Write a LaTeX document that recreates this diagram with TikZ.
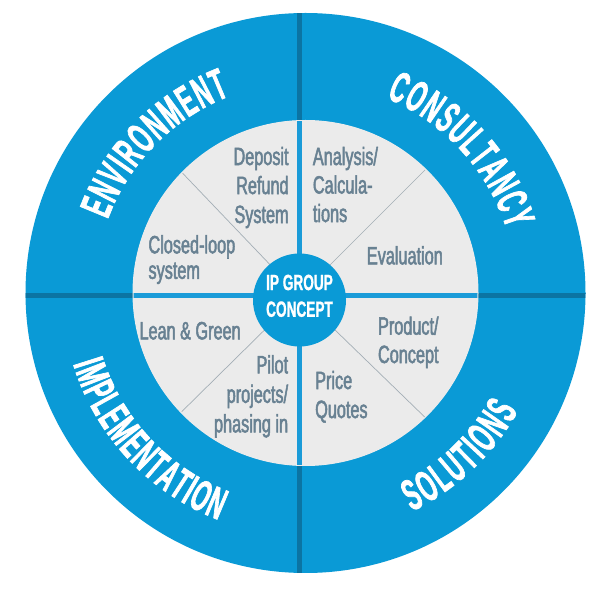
\documentclass[tikz,border=0pt]{standalone}
\usepackage{fontspec}
\usetikzlibrary{decorations.text}
\newfontfamily\ringfont[FakeStretch=0.5,FakeBold=1.5]{Liberation Sans}
\newfontfamily\labfont[FakeStretch=0.65,FakeBold=2]{Liberation Sans}
\newfontfamily\ctrfont[FakeStretch=0.62,FakeBold=1]{Liberation Sans}
\definecolor{ringblue}{HTML}{0A9AD6}
\definecolor{bandblue}{HTML}{0B74A3}
\definecolor{innerline}{HTML}{1A9BD8}
\definecolor{fillgray}{HTML}{EBEBEB}
\definecolor{diaggray}{HTML}{A3AEB5}
\definecolor{labgray}{HTML}{688192}
\begin{document}
\begin{tikzpicture}[x=1pt,y=1pt,
  lab/.style={font=\labfont\fontsize{25}{#1}\selectfont, text=labgray, inner sep=0pt},
  ctrtext/.style={font=\ctrfont\bfseries\fontsize{22}{26.7}\selectfont, text=white, inner sep=0pt, align=center},
  darkband/.style={draw=bandblue, line width=5.5pt},
  lightband/.style={draw=innerline, line width=4.5pt},
  diag/.style={draw=diaggray, line width=0.7pt},
  ringtext/.style={decorate, decoration={text along path, text={|\ringfont\bfseries\fontsize{44}{46}\selectfont|#1}, text color=white, text align={fit to path}}}
]
\useasboundingbox (0,0) rectangle (600,600);
\fill[white] (0,0) rectangle (600,600);
\coordinate (O) at (305.5,307);
\coordinate (X) at (299.5,304.5);
\coordinate (vt) at (299.5,600);
\coordinate (vb) at (299.5,0);
\coordinate (hl) at (0,304.5);
\coordinate (hr) at (600,304.5);
% outer ring
\fill[ringblue] (O) circle[radius=280pt];
\begin{scope}
  \clip (O) circle[radius=280pt];
  \draw[darkband] (vb) -- (vt);
  \draw[darkband] (hl) -- (hr);
\end{scope}
% inner gray disc
\fill[fillgray] (O) circle[radius=172.5pt];
\draw[white!85!gray, line width=1pt] (O) circle[radius=172.5pt];
% diagonals
\coordinate (d1) at (182.7,426.7);
\coordinate (d2) at (425,430);
\coordinate (d3) at (181.7,188.3);
\coordinate (d4) at (425,182.7);
\begin{scope}
  \clip (O) circle[radius=172pt];
  \draw[diag] (X) -- (d1);
  \draw[diag] (X) -- (d2);
  \draw[diag] (X) -- (d3);
  \draw[diag] (X) -- (d4);
  \draw[lightband] (vb) -- (vt);
  \draw[lightband] (hl) -- (hr);
\end{scope}
% center
\node[circle, fill=ringblue, minimum size=93pt, inner sep=0pt] (ctr) at (299.5,300) {};
\node[ctrtext, anchor=north] (ctrlab) at (299.5,325.5) {IP GROUP\\CONCEPT};
% ring texts
\path[ringtext=ENVIRONMENT] ([shift={(159.6:211)}]O) arc[start angle=159.6, end angle=111, radius=211pt];
\path[ringtext=CONSULTANCY] ([shift={(67.5:211)}]O) arc[start angle=67.5, end angle=17.5, radius=211pt];
\path[ringtext=IMPLEMENTATION] ([shift={(197:243)}]O) arc[start angle=197, end angle=249, radius=243pt];
\path[ringtext=SOLUTIONS] ([shift={(296:243)}]O) arc[start angle=296, end angle=331, radius=243pt];
% inner labels
\node[lab=29, anchor=north east, align=right] (dep) at (288.8,453.3) {Deposit\\Refund\\System};
\node[lab=25.5, anchor=north west, align=left] (clo) at (148.3,365) {Closed-loop\\system};
\node[lab=28.5, anchor=north west, align=left] (ana) at (312.7,453.3) {Analysis/\\Calcula-\\tions};
\node[lab=29, anchor=north west, align=left] (eva) at (366.7,354) {Evaluation};
\node[lab=29, anchor=north west, align=left] (lea) at (139.3,278.3) {Lean \& Green};
\node[lab=29.5, anchor=north east, align=right] (pil) at (288.3,245) {Pilot\\projects/\\phasing in};
\node[lab=28.4, anchor=north, align=center] (pro) at (408.3,283.7) {Product/\\Concept};
\node[lab=29, anchor=north west, align=left] (pri) at (315,229.3) {Price\\Quotes};
\end{tikzpicture}
\end{document}
